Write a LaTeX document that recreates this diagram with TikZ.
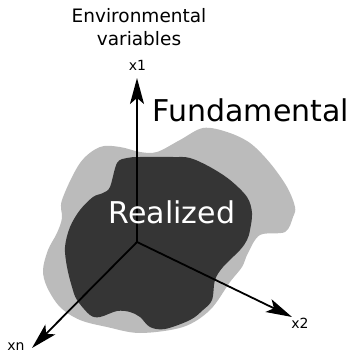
\documentclass[tikz,border=0pt]{standalone}
\usepackage{fontspec}
\setmainfont{DejaVu Sans}
\usetikzlibrary{arrows.meta}

\definecolor{nichelight}{HTML}{BBBBBB}
\definecolor{nichedark}{HTML}{353535}

\tikzset{
  axis/.style={line width=1.8pt, -{Stealth[length=26pt, width=14pt, inset=6pt]}},
  axislabel/.style={font=\fontsize{14}{16}\selectfont, anchor=base, inner sep=0pt},
  biglabel/.style={font=\fontsize{30}{34}\selectfont, anchor=base, inner sep=0pt}
}

\begin{document}
\begin{tikzpicture}[x=1pt, y=-1pt]
    \useasboundingbox (0,0) rectangle (352,352);

    % Fundamental niche
    \fill[nichelight] plot[smooth cycle, tension=0.55] coordinates {
        (100,147) (120,147) (140,152) (157,152) (180,140) (203,128) (227,132)
        (250,143) (270,163) (287,187) (295,207) (293,217) (285,232) (260,235)
        (248,253) (242,267) (230,282) (210,310) (183,327) (140,333) (107,327)
        (80,320) (60,307) (47,287) (43,270) (48,250) (57,233) (62,218)
        (62,200) (80,163)};

    % Realized niche
    \fill[nichedark] plot[smooth cycle, tension=0.55] coordinates {
        (117,163) (127,158) (140,157) (173,157) (190,158) (210,167) (230,180)
        (247,197) (252,213) (250,230) (247,240) (240,250) (223,267) (215,280)
        (212,300) (203,310) (190,320) (165,329) (150,327) (140,317) (130,312)
        (117,311) (100,317) (90,315) (77,300) (72,287) (67,267) (65,247)
        (70,227) (80,210) (93,197) (103,193) (110,187)};

    % Axes
    \coordinate (origin) at (137,242);
    \coordinate (x1end) at (137,78);
    \coordinate (x2end) at (292,317);
    \coordinate (xnend) at (32,348);
    \draw[axis] (origin) -- (x1end);
    \draw[axis] (origin) -- (x2end);
    \draw[axis] (origin) -- (xnend);

    % Labels
    \node[axislabel] (x1) at (137.5,71) {x1};
    \node[axislabel] (x2) at (300,328) {x2};
    \node[axislabel] (xn) at (16,350) {xn};
    \node[font=\fontsize{18.5}{23}\selectfont, align=center, anchor=base, inner sep=0pt]
        (env) at (139,46) {Environmental\\variables};
    \node[biglabel] (fund) at (251,122) {Fundamental};
    \node[biglabel, text=white] (real) at (172,223) {Realized};

\end{tikzpicture}
\end{document}
